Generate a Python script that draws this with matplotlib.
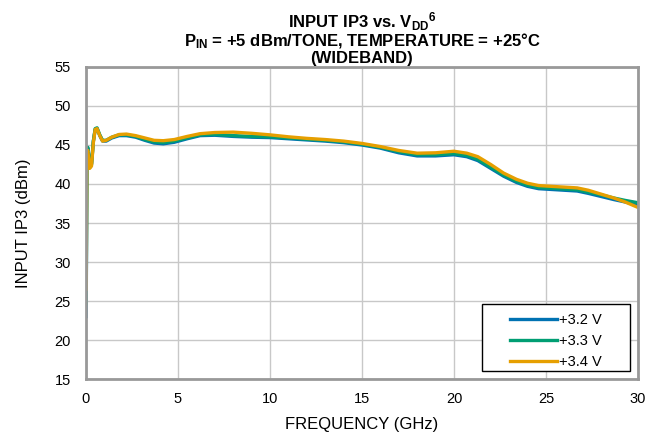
import matplotlib
matplotlib.use("Agg")
import matplotlib.pyplot as plt
from matplotlib.patches import Rectangle

plt.rcParams["font.family"] = ["Liberation Sans", "DejaVu Sans"]
plt.rcParams["mathtext.fontset"] = "custom"
plt.rcParams["mathtext.rm"] = "Liberation Sans:bold"
plt.rcParams["mathtext.default"] = "rm"

# frequency points (GHz), shared by all three supply voltages
freq = [0.01, 0.05, 0.1, 0.2, 0.3, 0.4, 0.5, 0.6, 0.75, 0.9, 1.1, 1.4, 1.8,
        2.2, 2.7, 3.2, 3.7, 4.2, 4.8, 5.5, 6.2, 7, 8, 9, 10, 11, 12, 13, 14,
        15, 16, 17, 18, 19, 20, 20.7, 21.3, 22, 22.7, 23.4, 24, 24.6, 25.3,
        26, 26.7, 27.3, 28, 28.7, 29.3, 30]

ip3_32v = [23.0, 44.3, 44.6, 42.5, 42.6, 45.5, 47.0, 47.1, 46.2, 45.5, 45.5,
           45.9, 46.2, 46.2, 46.0, 45.6, 45.25, 45.15, 45.35, 45.8, 46.2,
           46.25, 46.1, 46.0, 45.95, 45.8, 45.65, 45.5, 45.3, 45.0, 44.6,
           44.0, 43.6, 43.6, 43.75, 43.5, 43.0, 42.0, 41.0, 40.2, 39.7, 39.4,
           39.3, 39.2, 39.1, 38.8, 38.4, 38.0, 37.7, 37.3]

ip3_33v = [24.7, 44.4, 44.7, 42.4, 42.5, 45.5, 47.1, 47.2, 46.3, 45.6, 45.6,
           46.0, 46.3, 46.3, 46.1, 45.7, 45.4, 45.3, 45.5, 45.9, 46.3,
           46.35, 46.2, 46.1, 46.05, 45.9, 45.75, 45.6, 45.4, 45.1, 44.7,
           44.15, 43.75, 43.75, 43.9, 43.65, 43.15, 42.15, 41.15, 40.35,
           39.85, 39.55, 39.45, 39.35, 39.25, 38.95, 38.6, 38.2, 37.9, 37.6]

ip3_34v = [26.5, 44.0, 44.3, 42.0, 42.3, 45.3, 47.0, 47.1, 46.2, 45.5, 45.6,
           46.0, 46.35, 46.4, 46.2, 45.9, 45.6, 45.55, 45.7, 46.1, 46.45,
           46.6, 46.65, 46.5, 46.3, 46.05, 45.85, 45.7, 45.5, 45.2, 44.8,
           44.3, 43.95, 44.0, 44.2, 43.95, 43.5, 42.5, 41.4, 40.6, 40.1,
           39.8, 39.7, 39.6, 39.5, 39.2, 38.7, 38.2, 37.7, 37.0]

labels = ["+3.2 V", "+3.3 V", "+3.4 V"]
colors = ["#0072B2", "#009E73", "#E69F00"]

fig = plt.figure(figsize=(6.59, 4.37), dpi=100)
ax = fig.add_axes([0.1305, 0.1327, 0.8375, 0.714])

for y, lab, c in zip([ip3_32v, ip3_33v, ip3_34v], labels, colors):
    ax.plot(freq, y, color=c, lw=2.4, label=lab, solid_joinstyle="round")

ax.set_xlim(0, 30)
ax.set_ylim(15, 55)
ax.set_xticks(range(0, 31, 5))
ax.set_yticks(range(15, 56, 5))
ax.grid(True, color="#c8c8c8", lw=1.0)
ax.set_axisbelow(True)
ax.tick_params(length=0, labelsize=10.5)
ax.tick_params(axis="y", pad=11)
ax.tick_params(axis="x", pad=9)
for s in ax.spines.values():
    s.set_color("#999999")
    s.set_linewidth(2)

ax.set_xlabel("FREQUENCY (GHz)", fontsize=12, labelpad=8)
ax.set_ylabel("INPUT IP3 (dBm)", fontsize=12, labelpad=17)

title = ("INPUT IP3 vs. V$_{DD}$$^{6}$\n"
         "P$_{IN}$ = +5 dBm/TONE, TEMPERATURE = +25°C\n"
         "(WIDEBAND)")
ax.set_title(title, fontsize=12, fontweight="bold", linespacing=0.95, pad=3)

# legend box drawn separately so it can be wider than its contents
ax.add_patch(Rectangle((0.717, 0.026), 0.2685, 0.214, transform=ax.transAxes,
                       facecolor="white", edgecolor="black", lw=1.0,
                       zorder=4))
leg = ax.legend(loc="center", bbox_to_anchor=(0.851, 0.122), fontsize=10.5,
                frameon=False, handlelength=3.2, labelspacing=0.48,
                handletextpad=0.15, borderpad=0)
leg.set_zorder(5)

fig.savefig("out.png", dpi=100)
